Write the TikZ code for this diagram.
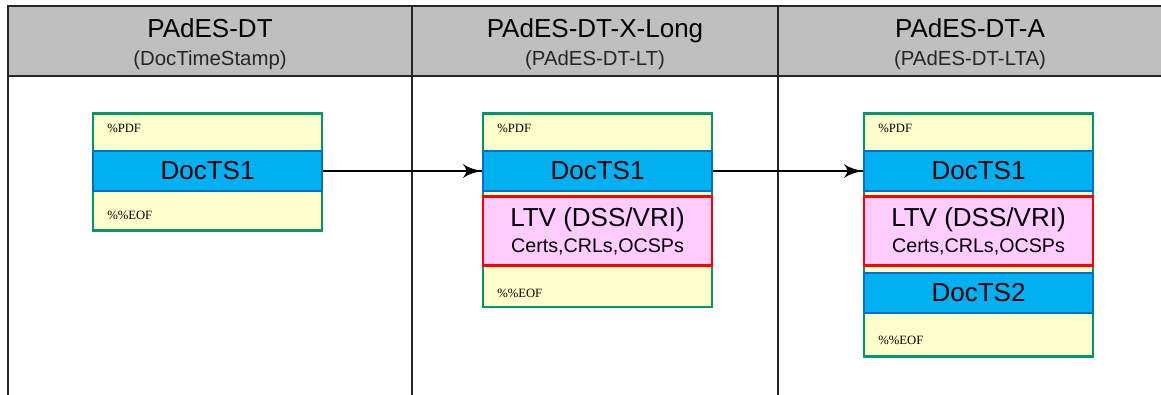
\documentclass[tikz,border=0pt]{standalone}
\usepackage{fontspec}
\setmainfont{Liberation Sans}
\newfontfamily\pdfmark{Liberation Serif}
\usepackage{tikz}
\usetikzlibrary{arrows}
\usetikzlibrary{decorations.markings}
\usetikzlibrary{positioning}
\definecolor{hgray}{HTML}{BFBFBF}
\definecolor{pyellow}{HTML}{FFFFCC}
\definecolor{pgreen}{HTML}{00966E}
\definecolor{tsfill}{HTML}{00B0F0}
\definecolor{tsline}{HTML}{0070C0}
\definecolor{ltvfill}{HTML}{FFCCFF}
\definecolor{ltvline}{HTML}{FF0000}
\tikzset{grid/.style = {line width=1.1pt, black!85}}
\tikzset{title/.style = {anchor=base, inner sep=0pt, font=\fontsize{18.5}{20}\selectfont}}
\tikzset{subtitle/.style = {anchor=base, inner sep=0pt, text=black!85, font=\fontsize{14.5}{16}\selectfont}}
\tikzset{pdffile/.style = {draw=pgreen, fill=pyellow, line width=2pt, anchor=north,
                           minimum width=5.725cm, inner sep=0pt}}
\tikzset{tsband/.style = {draw=tsline, fill=tsfill, line width=2pt, minimum width=5.725cm,
                          minimum height=1cm, inner sep=0pt, font=\fontsize{18.5}{20}\selectfont}}
\tikzset{ltvbox/.style = {draw=ltvline, fill=ltvfill, line width=2pt, minimum width=5.725cm,
                          minimum height=1.71cm, inner sep=0pt, align=center,
                          font=\fontsize{18.5}{18.5}\selectfont}}
\tikzset{marker/.style = {anchor=base west, inner sep=0pt, font=\pdfmark\fontsize{9}{10}\selectfont}}
\tikzset{flow/.style = {line width=1.3pt,
                        decoration={markings, mark=at position 1 with {\arrow[scale=2]{latex'}}},
                        postaction={decorate}}}

\begin{document}
\begin{tikzpicture}[x=0.025cm, y=-0.025cm]
    \useasboundingbox (0, 0) rectangle (1161, 394);
    % header and columns
    \fill [hgray] (8, 6) rectangle (1170, 76);
    \draw [grid] (1170, 6) -- (8, 6) -- (8, 400);
    \draw [grid] (8, 76) -- (1170, 76);
    \draw [grid] (412, 6) -- (412, 400);
    \draw [grid] (778, 6) -- (778, 400);
    \node [title] (headA) at (210, 38) {PAdES-DT};
    \node [subtitle] (subA) at (210, 65) {(DocTimeStamp)};
    \node [title] (headB) at (595, 38) {PAdES-DT-X-Long};
    \node [subtitle] (subB) at (595, 65) {(PAdES-DT-LT)};
    \node [title] (headC) at (970, 38) {PAdES-DT-A};
    \node [subtitle] (subC) at (970, 65) {(PAdES-DT-LTA)};
    % PAdES-DT
    \node [pdffile, minimum height=2.925cm] (fileA) at (207.5, 112) {};
    \node [marker] (pdfA) at (107, 132) {\%PDF};
    \node [tsband] (tsA) at (207.5, 171) {DocTS1};
    \node [marker] (eofA) at (107, 219) {\%\%EOF};
    % PAdES-DT-X-Long
    \node [pdffile, minimum height=4.84cm] (fileB) at (597.5, 112) {};
    \node [marker] (pdfB) at (497, 132) {\%PDF};
    \node [tsband] (tsB) at (597.5, 171) {DocTS1};
    \node [ltvbox] (ltvB) at (597.5, 231) {LTV (DSS/VRI)\\{\fontsize{14}{18.5}\selectfont Certs,CRLs,OCSPs}};
    \node [marker] (eofB) at (497, 297) {\%\%EOF};
    % PAdES-DT-A
    \node [pdffile, minimum height=6.075cm] (fileC) at (978.5, 112) {};
    \node [marker] (pdfC) at (878, 132) {\%PDF};
    \node [tsband] (tsC) at (978.5, 171) {DocTS1};
    \node [ltvbox] (ltvC) at (978.5, 231) {LTV (DSS/VRI)\\{\fontsize{14}{18.5}\selectfont Certs,CRLs,OCSPs}};
    \node [tsband] (ts2C) at (978.5, 293) {DocTS2};
    \node [marker] (eofC) at (878, 344) {\%\%EOF};
    \draw [flow] (tsA.east) -- (tsB.west);
    \draw [flow] (tsB.east) -- (tsC.west);
  \end{tikzpicture}
\end{document}
